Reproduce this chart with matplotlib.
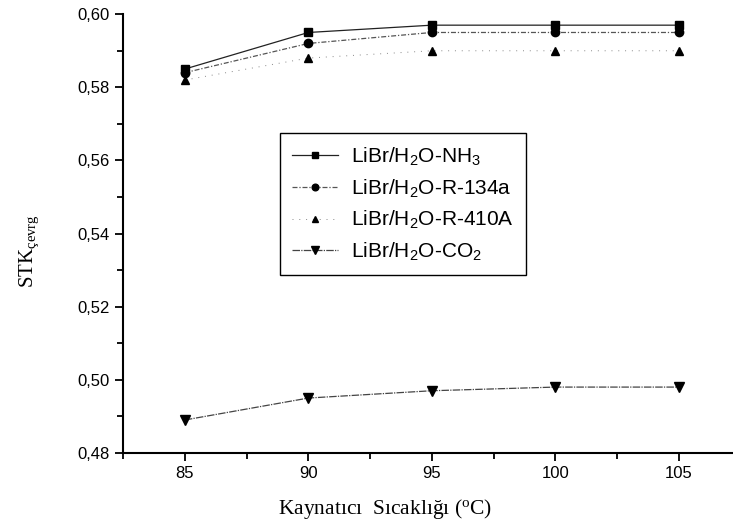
import matplotlib.pyplot as plt
from matplotlib.ticker import MultipleLocator

plt.rcParams['font.family'] = ['Liberation Sans', 'DejaVu Sans']
plt.rcParams['mathtext.default'] = 'regular'

# Data
temps = [85, 90, 95, 100, 105]
nh3 = [0.585, 0.595, 0.597, 0.597, 0.597]
r134a = [0.584, 0.592, 0.595, 0.595, 0.595]
r410a = [0.582, 0.588, 0.590, 0.590, 0.590]
co2 = [0.489, 0.495, 0.497, 0.498, 0.498]

labels = ["LiBr/H$_2$O-NH$_3$", "LiBr/H$_2$O-R-134a",
          "LiBr/H$_2$O-R-410A", "LiBr/H$_2$O-CO$_2$"]

fig = plt.figure(figsize=(7.33, 5.26), dpi=100)
ax = fig.add_axes([0.168, 0.139, 0.832, 0.834])

mk = dict(mfc="black", mec="black", ms=6)
ax.plot(temps, nh3, color="#222222", lw=0.9, ls="-", marker="s", label=labels[0], **mk)
ax.plot(temps, r134a, color="#555555", lw=0.9, ls=(0, (4, 1.5, 1, 1.5)), marker="o", label=labels[1], **mk)
ax.plot(temps, r410a, color="#888888", lw=0.7, ls=(0, (1, 6)), marker="^", label=labels[2], **mk)
ax.plot(temps, co2, color="#444444", lw=0.9, ls=(0, (6, 1, 1, 1)), marker="v", label=labels[3],
        mfc="black", mec="black", ms=7)

ax.set_xlim(82.5, 107.2)
ax.set_ylim(0.48, 0.60)
ax.xaxis.set_major_locator(MultipleLocator(5))
ax.xaxis.set_minor_locator(MultipleLocator(2.5))
ax.yaxis.set_major_locator(MultipleLocator(0.02))
ax.yaxis.set_minor_locator(MultipleLocator(0.01))
ax.yaxis.set_major_formatter(lambda v, p: f"{v:.2f}".replace(".", ","))

ax.spines["top"].set_visible(False)
ax.spines["right"].set_visible(False)
ax.spines["left"].set_linewidth(1.5)
ax.spines["bottom"].set_linewidth(1.5)
ax.tick_params(which="major", direction="out", length=6, width=1.3, labelsize=12)
ax.tick_params(which="minor", direction="out", length=4, width=1.3)

ax.set_xlabel("Kaynatıcı  Sıcaklığı ($^o$C)", family="Liberation Serif", fontsize=15.5)
ax.xaxis.set_label_coords(0.43, -0.1)
ax.set_ylabel("STK$_{çevrg}$", family="Liberation Serif", fontsize=15)
ax.yaxis.set_label_coords(-0.135, 0.46)

leg = ax.legend(loc="upper left", bbox_to_anchor=(0.257, 0.729), borderaxespad=0,
                fontsize=15, handlelength=2.2, handletextpad=0.6, fancybox=False,
                edgecolor="black", framealpha=1, borderpad=0.6, labelspacing=0.45,
                markerscale=0.8)
leg.get_frame().set_linewidth(1.0)

plt.savefig("out.png", dpi=100)
